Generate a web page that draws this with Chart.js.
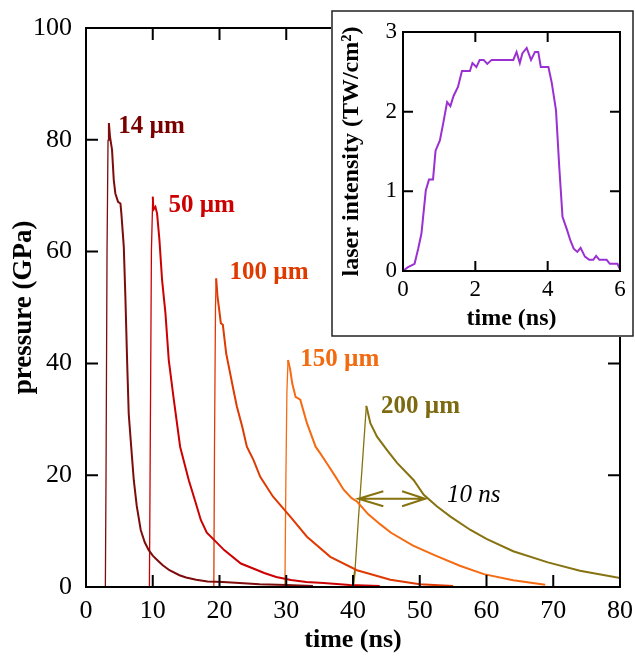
<!DOCTYPE html>
<html><head><meta charset="utf-8">
<script src="https://cdn.jsdelivr.net/npm/chart.js@4.4.0/dist/chart.umd.min.js"></script>
<style>
html,body{margin:0;padding:0;background:#fff;}
#wrap{position:relative;width:635px;height:663px;overflow:hidden;}
#main{position:absolute;left:0;top:0;}
#inset{position:absolute;left:331px;top:10px;}
</style></head><body>
<div id="wrap"><canvas id="main" width="635" height="663"></canvas><canvas id="inset" width="303" height="327"></canvas></div>
<script>
// ---------- data ----------
const mainXTicks = [0,10,20,30,40,50,60,70,80];
const mainYTicks = [0,20,40,60,80,100];
const insetXTicks = [0,2,4,6];
const insetYTicks = [0,1,2,3];

const t14 = [2.9,3.0,3.15,3.3,3.43,3.6,3.9,4.16,4.4,4.8,5.16,5.3,5.66,5.9,6.17,6.4,6.77,7.16,7.6,8.2,8.8,9.4,10.0,10.7,11.5,12.5,14.0,15.0,16.5,18.2,20.5,23,26,30,34];
const p14 = [0,20,60,80,83,80.5,78.2,72.8,70.4,68.9,68.6,66.8,60.9,51.9,40,31,25.1,19.1,14.5,10.2,8.0,6.6,5.6,4.8,3.9,3.0,2.1,1.7,1.3,1.0,0.9,0.7,0.5,0.35,0.2];

const t50 = [9.5,9.6,9.8,10.0,10.1,10.4,10.65,11.0,11.4,11.9,12.4,13.1,14.1,15.4,16.5,17.2,18.1,19.3,20.7,23.2,25.7,26.7,28.5,30.7,33,35.6,39.5,44];
const p50 = [0,20,60,69.8,67.5,68,66.8,62.1,54.9,49,40.6,34,25.1,19.1,14.8,12.0,9.7,8.3,6.6,4.2,3.0,2.5,1.8,1.25,0.9,0.7,0.35,0.2];

const t100 = [19.15,19.25,19.4,19.5,19.7,19.9,20.2,20.5,21.0,21.6,22.1,22.6,23.4,24.1,25.1,26.1,28.0,30.6,33.1,36.6,40.6,45.6,50,55];
const p100 = [0,25,50,55.2,52,50.1,47.2,46.9,41.8,38.2,35.2,32.3,28.7,25.1,22.7,19.7,16.2,12.6,9.0,5.4,3.0,1.3,0.5,0.2];

const t150 = [29.8,29.95,30.1,30.27,30.6,30.9,31.4,32.1,33.1,34.4,35.1,36.1,37.4,38.6,39.8,40.6,42.3,44.1,45.7,49,52.2,56,59.6,64,68.8];
const p150 = [0,20,35,40.6,38.8,36.4,34,33.5,29.3,25.1,23.9,22.1,19.7,17.4,15.9,15.3,13.0,11.2,9.7,7.4,5.7,3.8,2.3,1.2,0.4];

const t200 = [40.0,40.3,40.8,41.4,42.0,42.6,43.6,45.1,46.6,49.1,50.6,52.6,54.6,57.6,60,64,69.2,74,80];
const p200 = [0,3,12,22,32.4,29.3,26.9,24.5,22.2,19.1,16.5,14.4,12.6,10.2,8.6,6.4,4.4,2.9,1.6];

const tLaser = [0,0.14,0.32,0.42,0.51,0.63,0.72,0.83,0.9,1.02,1.11,1.22,1.31,1.4,1.52,1.63,1.85,1.92,2.03,2.12,2.23,2.33,2.45,3.05,3.14,3.23,3.3,3.42,3.54,3.65,3.74,3.81,4.02,4.11,4.23,4.32,4.41,4.54,4.63,4.72,4.82,4.91,5.03,5.15,5.26,5.34,5.43,5.63,5.72,5.93,6.0];
const iLaser = [0,0.05,0.09,0.28,0.47,1.01,1.15,1.15,1.51,1.64,1.85,2.12,2.07,2.2,2.31,2.51,2.51,2.61,2.56,2.65,2.65,2.6,2.65,2.65,2.75,2.61,2.73,2.8,2.65,2.75,2.75,2.56,2.56,2.37,2.02,1.31,0.68,0.51,0.38,0.28,0.24,0.29,0.18,0.14,0.14,0.19,0.14,0.14,0.09,0.09,0.02];

const seriesNames = ['14 µm','50 µm','100 µm','150 µm','200 µm'];
const arrowTimes = [40.8, 50.8];
const arrowPressure = 15.8;
const arrowText = '10 ns';

// ---------- styles ----------
const SERIF = "'Liberation Serif','Times New Roman',Times,serif";
Chart.defaults.font.family = SERIF;
Chart.defaults.color = '#000';
const lineColors = ['#7d0c0c','#cc0000','#de3a02','#f66a12','#86720f'];
const textColors = ['#7a0000','#cc0000','#dd3b00','#f26b11','#7d6a10'];
const labelAnchors = [[4.85,82.3],[12.35,68.3],[21.5,56.2],[32.1,40.6],[44.2,32.2]];

const zip = (a,b) => a.map((v,i)=>({x:v,y:b[i]}));

const framePlugin = {
  id:'frameTicks',
  afterDraw(chart, args, o){
    const {ctx, chartArea:{left,right,top,bottom}} = chart;
    const xs = chart.scales.x, ys = chart.scales.y;
    ctx.save();
    ctx.strokeStyle = '#000'; ctx.lineWidth = 2; ctx.lineCap='butt';
    ctx.strokeRect(left, top, right-left, bottom-top);
    const L = o.len;
    ctx.beginPath();
    xs.ticks.forEach(t=>{ const p = xs.getPixelForValue(t.value);
      ctx.moveTo(p,bottom); ctx.lineTo(p,bottom-L); ctx.moveTo(p,top); ctx.lineTo(p,top+L); });
    ys.ticks.forEach(t=>{ const p = ys.getPixelForValue(t.value);
      ctx.moveTo(left,p); ctx.lineTo(left+L,p); ctx.moveTo(right,p); ctx.lineTo(right-L,p); });
    ctx.stroke();
    ctx.restore();
  }
};

const annotPlugin = {
  id:'annot',
  afterDatasetsDraw(chart){
    const {ctx} = chart; const xs = chart.scales.x, ys = chart.scales.y;
    ctx.save();
    ctx.font = "bold 25px " + SERIF; ctx.textBaseline='middle'; ctx.textAlign='left';
    seriesNames.forEach((n,i)=>{ ctx.fillStyle = textColors[i];
      ctx.fillText(n, xs.getPixelForValue(labelAnchors[i][0]), ys.getPixelForValue(labelAnchors[i][1])); });
    const x1 = xs.getPixelForValue(arrowTimes[0]), x2 = xs.getPixelForValue(arrowTimes[1]);
    const y = ys.getPixelForValue(arrowPressure);
    ctx.strokeStyle = lineColors[4]; ctx.lineWidth = 2;
    ctx.beginPath();
    ctx.moveTo(x1,y); ctx.lineTo(x2,y);
    ctx.moveTo(x1+25,y-7.5); ctx.lineTo(x1,y); ctx.lineTo(x1+25,y+7.5);
    ctx.moveTo(x2-23,y-7.5); ctx.lineTo(x2,y); ctx.lineTo(x2-23,y+7.5);
    ctx.stroke();
    ctx.fillStyle='#000'; ctx.font = "italic 25px " + SERIF;
    ctx.fillText(arrowText, xs.getPixelForValue(54.1), ys.getPixelForValue(16.3));
    ctx.restore();
  }
};

const segW = { borderWidth: c => (c.p1.parsed.y - c.p0.parsed.y > 4 ? 1.3 : 2) };
const noPadX = h => s => { s.height = h; s.paddingLeft = 0; s.paddingRight = 0; s.paddingTop = 0; s.paddingBottom = 0; };
const noPadY = w => s => { s.width = w; s.paddingLeft = 0; s.paddingRight = 0; s.paddingTop = 0; s.paddingBottom = 0; };

function fitArea(chart, target){
  for (let k = 0; k < 3; k++) {
    const a = chart.chartArea, p = chart.options.layout.padding;
    const dr = a.right - target.right, dt = a.top - target.top;
    if (Math.abs(dr) < 0.5 && Math.abs(dt) < 0.5) break;
    p.right += dr; p.top -= dt;
    chart.update('none');
  }
}

const mainChart = new Chart(document.getElementById('main'), {
  type:'scatter',
  data:{ datasets:[
    {data:zip(t14,p14), borderColor:lineColors[0]},
    {data:zip(t50,p50), borderColor:lineColors[1]},
    {data:zip(t100,p100), borderColor:lineColors[2]},
    {data:zip(t150,p150), borderColor:lineColors[3]},
    {data:zip(t200,p200), borderColor:lineColors[4]},
  ].map(d=>Object.assign(d,{showLine:true,pointRadius:0,borderWidth:2,fill:false,tension:0,segment:segW}))},
  options:{
    responsive:false, animation:false, devicePixelRatio:1,
    layout:{padding:{top:28,right:15,left:0,bottom:0}},
    plugins:{legend:{display:false}, tooltip:{enabled:false}, frameTicks:{len:12}},
    scales:{
      x:{type:'linear', min:0, max:80,
        afterBuildTicks:s=>{s.ticks = mainXTicks.map(v=>({value:v}));},
        afterFit:noPadX(76),
        grid:{display:false, drawTicks:false}, border:{display:false},
        ticks:{font:{size:26}, padding:9, color:'#000', maxRotation:0},
        title:{display:true, text:'time (ns)', font:{size:26, weight:'bold'}, padding:{top:0,bottom:7}, color:'#000'}},
      y:{type:'linear', min:0, max:100,
        afterBuildTicks:s=>{s.ticks = mainYTicks.map(v=>({value:v}));},
        afterFit:noPadY(86),
        grid:{display:false, drawTicks:false}, border:{display:false},
        ticks:{font:{size:26}, padding:14, color:'#000'},
        title:{display:true, text:'pressure (GPa)', font:{size:27, weight:'bold'}, padding:{top:8,bottom:0}, color:'#000'}}
    }
  },
  plugins:[framePlugin, annotPlugin]
});
fitArea(mainChart, {right:620, top:28});

const insetBg = {
  id:'insetBg',
  beforeDraw(chart){ const {ctx,width,height} = chart; ctx.save(); ctx.fillStyle='#fff'; ctx.fillRect(0,0,width,height);
    ctx.strokeStyle='#222'; ctx.lineWidth=1.5; ctx.strokeRect(1,1,width-2,height-2); ctx.restore(); }
};

const insetChart = new Chart(document.getElementById('inset'), {
  type:'scatter',
  data:{datasets:[{data:zip(tLaser,iLaser), borderColor:'#9b30d2', borderWidth:2, showLine:true, pointRadius:0, tension:0, fill:false}]},
  options:{
    responsive:false, animation:false, devicePixelRatio:1,
    layout:{padding:{top:22,right:14,left:0,bottom:0}},
    plugins:{legend:{display:false}, tooltip:{enabled:false}, frameTicks:{len:10}},
    scales:{
      x:{type:'linear', min:0, max:6,
        afterBuildTicks:s=>{s.ticks = insetXTicks.map(v=>({value:v}));},
        afterFit:noPadX(66),
        grid:{display:false, drawTicks:false}, border:{display:false},
        ticks:{font:{size:23}, padding:5, color:'#000', maxRotation:0},
        title:{display:true, text:'time (ns)', font:{size:24, weight:'bold'}, padding:{top:0,bottom:4}, color:'#000'}},
      y:{type:'linear', min:0, max:3,
        afterBuildTicks:s=>{s.ticks = insetYTicks.map(v=>({value:v}));},
        afterFit:noPadY(72),
        grid:{display:false, drawTicks:false}, border:{display:false},
        ticks:{font:{size:23}, padding:6, color:'#000'},
        title:{display:true, text:'laser intensity (TW/cm²)', font:{size:24, weight:'bold'}, padding:{top:6,bottom:0}, color:'#000'}}
    }
  },
  plugins:[insetBg, framePlugin]
});
fitArea(insetChart, {right:289, top:22});
</script>
</body></html>
